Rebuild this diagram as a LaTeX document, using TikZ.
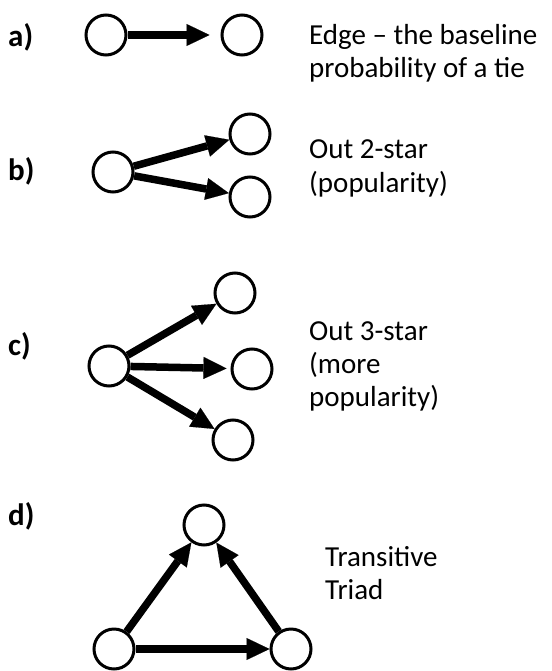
\documentclass[tikz,border=0pt]{standalone}
\usepackage{fontspec}
\setmainfont{Carlito}
\usetikzlibrary{arrows.meta}
\begin{document}
\begin{tikzpicture}[x=1pt,y=-1pt,
  vert/.style={circle,draw,line width=3pt,minimum size=40pt,inner sep=0pt},
  tie/.style={line width=7.5pt,-{Triangle[length=23pt,width=22pt,line width=0.1pt]}},
  txt/.style={anchor=base west,inner sep=0pt,font=\fontsize{29}{33}\selectfont},
  lbl/.style={anchor=base west,inner sep=0pt,font=\fontsize{31}{33}\selectfont\bfseries}]
\useasboundingbox[fill=white] (0,0) rectangle (551,671);

% labels
\node[lbl] (la) at (8,47) {a)};
\node[lbl] (lb) at (8,180) {b)};
\node[lbl] (lc) at (8,355) {c)};
\node[lbl] (ld) at (8,525) {d)};

% a) edge
\node[vert] (a1) at (106,35) {};
\node[vert] (a2) at (242,35) {};
\draw[tie,shorten >=11pt] (a1) -- (a2);
\node[txt] (ta1) at (309,45) {Edge – the baseline};
\node[txt] (ta2) at (309,78) {probability of a tie};

% b) out 2-star
\node[vert] (b0) at (113,172) {};
\node[vert] (b1) at (250,134) {};
\node[vert] (b2) at (250,197) {};
\draw[tie] (b0) -- (b1);
\draw[tie] (b0) -- (b2);
\node[txt] (tb1) at (309,159) {Out 2-star};
\node[txt] (tb2) at (309,192) {(popularity)};

% c) out 3-star
\node[vert] (c0) at (109,366) {};
\node[vert] (c1) at (235,293) {};
\node[vert] (c2) at (252,369) {};
\node[vert] (c3) at (233,440) {};
\draw[tie] (c0) -- (c1);
\draw[tie,shorten >=4pt] (c0) -- (c2);
\draw[tie] (c0) -- (c3);
\node[txt] (tc1) at (309,340) {Out 3-star};
\node[txt] (tc2) at (309,373) {(more};
\node[txt] (tc3) at (309,406) {popularity)};

% d) transitive triad
\node[vert] (d1) at (204,525) {};
\node[vert] (d2) at (114,649) {};
\node[vert] (d3) at (291,649) {};
\draw[tie] (d2) -- (d1);
\draw[tie] (d3) -- (d1);
\draw[tie] (d2) -- (d3);
\node[txt] (td1) at (325,566) {Transitive};
\node[txt] (td2) at (325,599) {Triad};
\end{tikzpicture}
\end{document}
